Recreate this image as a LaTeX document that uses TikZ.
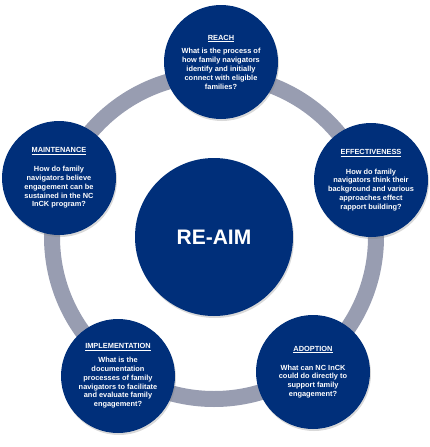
\documentclass[tikz,border=0pt]{standalone}
\usepackage{fontspec}
\setmainfont{Liberation Sans}
\usetikzlibrary{shadows}
\definecolor{navy}{RGB}{0,47,122}
\definecolor{ringgray}{RGB}{152,157,177}

\begin{document}
\begin{tikzpicture}[
  x=1pt, y=-1pt,
  snode/.style={circle, fill=navy, text=white, minimum size=114pt, inner sep=0pt,
    align=center, font=\fontsize{7.4}{8.8}\selectfont\bfseries,
    drop shadow={shadow xshift=1pt, shadow yshift=-2pt, opacity=0.3}},
  hub/.style={snode, minimum size=158pt, font=\fontsize{21}{25}\selectfont\bfseries}
]
  \useasboundingbox (0,0) rectangle (430,447);
  \coordinate (c) at (214,237);
  \draw[ringgray, line width=16pt] (c) circle (162pt);

  \node[hub] (reaim) at (c) {RE-AIM};

  \node[snode] (reach) at (221,62) {\underline{REACH}\\[5pt]
    What is the process of\\ how family navigators\\ identify and initially\\
    connect with eligible\\ families?};
  \node[snode] (eff) at (371,180) {\underline{EFFECTIVENESS}\\[11pt]
    How do family\\ navigators think their\\ background and various\\
    approaches effect\\ rapport building?};
  \node[snode] (adopt) at (313,372) {\underline{ADOPTION}\\[10pt]
    What can NC InCK\\ could do directly to\\ support family\\ engagement?};
  \node[snode] (impl) at (118,376) {\underline{IMPLEMENTATION}\\[5pt]
    What is the\\ documentation\\ processes of family\\ navigators to facilitate\\
    and evaluate family\\ engagement?};
  \node[snode] (maint) at (59,178) {\underline{MAINTENANCE}\\[10pt]
    How do family\\ navigators believe\\ engagement can be\\
    sustained in the NC\\ InCK program?};
\end{tikzpicture}
\end{document}
